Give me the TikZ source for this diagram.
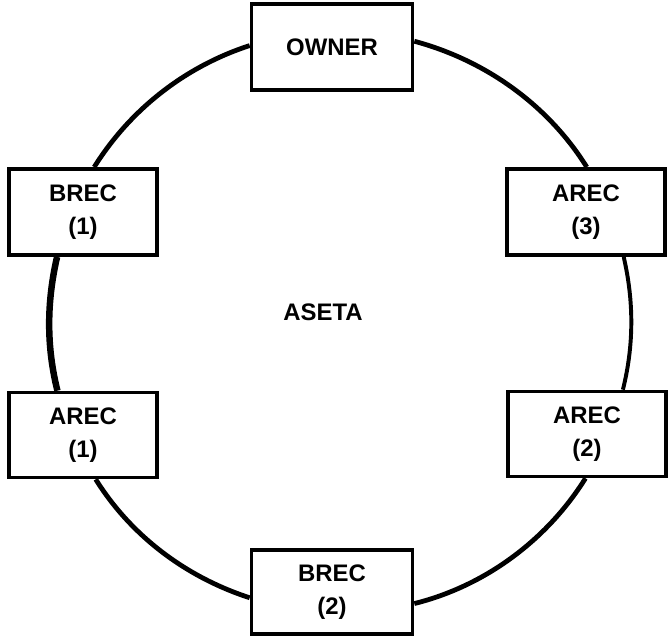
\documentclass[tikz,border=0pt]{standalone}
\usepackage{fontspec}
\setmainfont{Liberation Sans}
\usepackage{tikz}

\begin{document}
\begin{tikzpicture}[x=0.025cm, y=0.025cm,
  rec/.style={rectangle, draw=black, line width=2.7pt, fill=white, minimum height=2.15cm, align=center, font=\fontsize{17}{23.4}\selectfont\bfseries},
  ring/.style={line width=3.4pt, looseness=0.88}]

\useasboundingbox (0,0) rectangle (669,641);

% Nodes
\node (owner) [rec, minimum width=4.02cm] at (332,594) {OWNER};

\node (brec1) [rec, minimum width=3.68cm] at (83,429) {BREC\\(1)};

\node (arec1) [rec, minimum width=3.68cm, minimum height=2.12cm] at (83,206) {AREC\\(1)};

\node (brec2) [rec, minimum width=4.02cm, minimum height=2.08cm] at (332,49) {BREC\\(2)};

\node (arec2) [rec, minimum width=3.93cm, minimum height=2.12cm] at (587,207) {AREC\\(2)};

\node (arec3) [rec, minimum width=3.95cm] at (586,429) {AREC\\(3)};

\node (aseta) [font=\fontsize{17}{20}\selectfont\bfseries] at (323,329) {ASETA};

% Ring
\draw [ring] (owner.179) to[out=198, in=58] (brec1.76);
\draw [ring, line width=4.6pt] (brec1.240) to[out=257, in=104] (arec1.120);
\draw [ring] (arec1.286) to[out=302, in=162] (brec2.184);
\draw [ring] (brec2.352) to[out=14, in=238] (arec2.268);
\draw [ring, line width=2.8pt] (arec2.51) to[out=76, in=283] (arec3.310);
\draw [ring] (arec3.89) to[out=122, in=345] (owner.4);

\end{tikzpicture}
\end{document}
